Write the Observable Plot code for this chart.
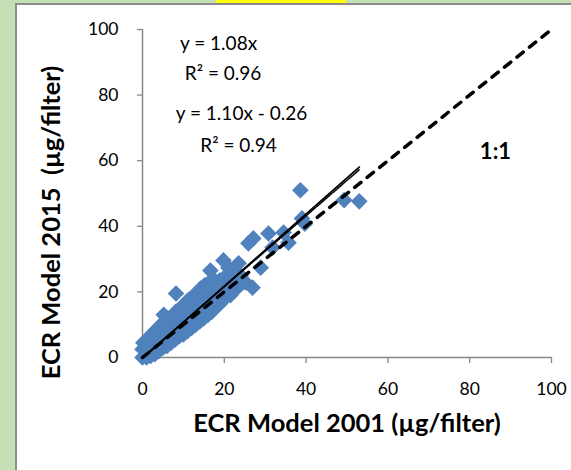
<!DOCTYPE html>
<html>
<head>
<meta charset="utf-8">
<script src="https://cdn.jsdelivr.net/npm/d3@7"></script>
<script src="https://cdn.jsdelivr.net/npm/@observablehq/plot@0.6"></script>
<style>
  html, body { margin: 0; padding: 0; }
  body { width: 571px; height: 470px; background: #c5e0b4; position: relative; overflow: hidden; font-family: Lato, "Open Sans", sans-serif; }
  #panel { position: absolute; left: 15px; top: 3px; width: 600px; height: 500px; background: #fff; border-left: 2px solid #8c8c8c; border-top: 2px solid #8c8c8c; }
  #tab { position: absolute; left: 216px; top: 0; width: 130px; height: 3px; background: #ffff00; }
  #chart { position: absolute; left: 0; top: 0; }
  g[aria-label="equation"] text { letter-spacing: 1.5px; }
  g[aria-label="x title"] text { letter-spacing: 1px; }
  g[aria-label="y title"] text { letter-spacing: 0.6px; }
  g[aria-label="ratio label"] text { letter-spacing: 1px; }
</style>
</head>
<body>
<div id="panel"></div>
<div id="tab"></div>
<div id="chart"></div>
<script>
// ECR Model 2001 (x) vs ECR Model 2015 (y), µg/filter
const x2001 = [
  0, 0, 0.2, 1, 1.1, 0.8, 1.2, 2, 2.1, 1.9, 2.2, 3, 2.9, 3.1, 3, 4, 4.1, 3.9, 4.2,
  5, 5.1, 4.9, 5, 5.2, 6, 6.1, 5.9, 6.2, 7, 7.1, 6.9, 7.2, 8, 8.1, 7.9, 8.2, 8.2,
  9, 9.1, 8.9, 9.2, 10, 10.1, 9.9, 10.2, 11, 11.1, 10.9, 11.2, 12, 12.1, 11.9, 12.2,
  13, 13.1, 12.9, 13.2, 14, 14.1, 13.9, 14.2, 15, 15.1, 14.9, 15.2, 16, 16.1, 15.9, 16.6,
  17, 17.1, 16.9, 17.2, 18, 18.1, 17.9, 19, 19.1, 18.9, 19.6, 19.8, 20, 20.1, 20.5,
  21, 21.5, 22, 22.2, 23.2, 23.5, 24, 25.2, 25.9, 26.9, 27.1, 28.9, 30.8, 31.8, 34.5, 35.7,
  38.6, 39, 39.7, 49.3, 53
];
const y2015 = [
  0, 2.5, 4.5, 0, 1.5, 3.5, 5.5, 0.5, 3, 5, 7, 1, 3.5, 6, 8, 2, 4.5, 7, 9.5,
  3, 5.5, 8, 10.5, 13, 3.5, 6.5, 9, 11.5, 4.5, 7.5, 10, 12.5, 5.5, 8, 11, 14, 19.5,
  6.5, 9, 12, 15, 7, 10, 13, 16, 8, 11, 14, 17.5, 9, 12, 15, 18.5,
  10, 13, 16, 19.5, 11, 14, 17.5, 21, 12, 15, 18.5, 22, 13, 16.5, 20, 26.5,
  14, 17.5, 21, 24, 15.5, 19, 22.5, 16.5, 20, 23.5, 17.4, 29.6, 18, 21.5, 25,
  27.4, 19, 23, 26.5, 21.3, 28.7, 25, 22.9, 34.8, 21.3, 36.3, 27.4, 37.8, 33.5, 38.1, 35,
  51, 42.4, 40.8, 48, 47.6
];
const points = x2001.map((x, i) => ({x, y: y2015[i]}));

// trendlines (Excel): slope, intercept, fitted x range end
const fitSlope = [1.08, 1.10];
const fitIntercept = [0, -0.26];
const fitLabels = ["y = 1.08x", "R² = 0.96", "y = 1.10x - 0.26", "R² = 0.94"];
const fitXEnd = 53;
const oneToOne = [0, 100];
const ticks = [0, 20, 40, 60, 80, 100];
const xTitle = "ECR Model 2001 (µg/filter)";
const yTitle = "ECR Model 2015  (µg/filter)";

const fitLine = k => [0, fitXEnd].map(x => ({x, y: fitSlope[k] * x + fitIntercept[k]}));

const font = "Lato, 'Open Sans', sans-serif";
const eq = (s, x, y) => Plot.text([s], { x, y, text: d => d, textAnchor: "middle", lineAnchor: "middle", fontSize: 19, fill: "#000", ariaLabel: "equation" });

const chart = Plot.plot({
  width: 571,
  height: 470,
  marginLeft: 142,
  marginRight: 20,
  marginTop: 29,
  marginBottom: 113,
  style: { background: "transparent", fontFamily: font, fontSize: "17.5px", color: "#000", overflow: "visible" },
  x: { domain: [0, 100] },
  y: { domain: [0, 100] },
  marks: [
    Plot.axisY({ ticks, tickSize: 5, tickPadding: 19, stroke: "#888", strokeWidth: 1.3, label: null, fontSize: 17.5 }),
    Plot.axisX({ ticks, tickSize: 6, tickPadding: 19, stroke: "#888", strokeWidth: 1.3, label: null, fontSize: 17.5 }),
    Plot.ruleX([0], { y1: 0, y2: 100, stroke: "#888", strokeWidth: 1.5 }),
    Plot.ruleY([0], { x1: 0, x2: 100, stroke: "#888", strokeWidth: 1.5 }),
    Plot.dot(points, { x: "x", y: "y", symbol: "diamond2", r: 7.5, fill: "#4f81bd", stroke: "none" }),
    Plot.line(oneToOne.map(v => ({x: v, y: v})), { x: "x", y: "y", stroke: "#000", strokeWidth: 3.5, strokeDasharray: "8,8", strokeLinecap: "round" }),
    Plot.line(fitLine(0), { x: "x", y: "y", stroke: "#000", strokeWidth: 1.6, strokeDasharray: "1.5,1.5" }),
    Plot.line(fitLine(1), { x: "x", y: "y", stroke: "#000", strokeWidth: 1.8 }),
    eq(fitLabels[0], 18.6, 95.5),
    eq(fitLabels[1], 19.7, 86.4),
    eq(fitLabels[2], 24.2, 74.2),
    eq(fitLabels[3], 23.5, 64.5),
    Plot.text(["1:1"], { x: 86.3, y: 62.8, text: d => d, textAnchor: "middle", lineAnchor: "middle", fontSize: 22, fontWeight: "bold", fill: "#000", ariaLabel: "ratio label" }),
    Plot.text([xTitle], { frameAnchor: "bottom", dx: 0, dy: 66, text: d => d, textAnchor: "middle", lineAnchor: "middle", fontSize: 25.5, fontWeight: "bold", fill: "#000", ariaLabel: "x title" }),
    Plot.text([yTitle], { frameAnchor: "left", dx: -91, dy: 29, rotate: -90, text: d => d, textAnchor: "middle", lineAnchor: "middle", fontSize: 25.5, fontWeight: "bold", fill: "#000", ariaLabel: "y title" })
  ]
});
document.getElementById("chart").appendChild(chart);
</script>
</body>
</html>
